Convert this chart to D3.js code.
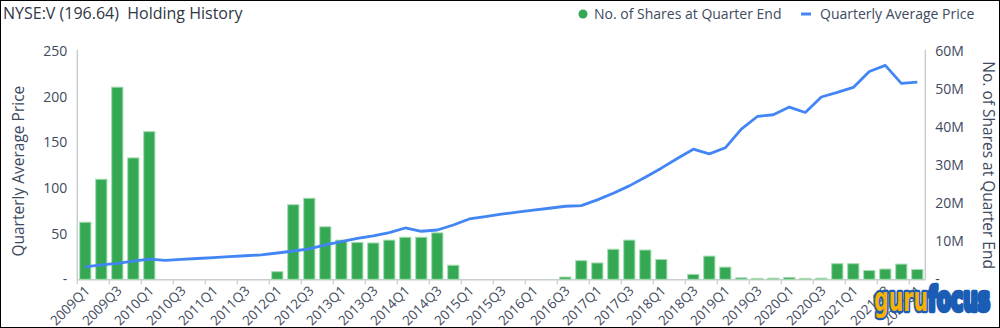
<!DOCTYPE html>
<html>
<head>
<meta charset="utf-8">
<script src="https://cdn.jsdelivr.net/npm/d3@7"></script>
<style>
html,body{margin:0;padding:0;background:#fff;}
svg{display:block;font-family:"Open Sans","Noto Sans",sans-serif;}
</style>
</head>
<body>
<svg id="chart" width="1000" height="328"></svg>
<script>
const quarters = [];
for (let y = 2009; y <= 2022; y++) for (let q = 1; q <= 4; q++) { if (y === 2022 && q > 1) break; quarters.push(y + "Q" + q); }

const shares = [15.0, 26.3, 50.5, 31.9, 38.8, 0, 0, 0, 0, 0, 0, 0,
  2.0, 19.6, 21.3, 13.8, 10.3, 9.7, 9.55, 10.3, 11.05, 11.05, 12.2, 3.7,
  0, 0, 0, 0, 0, 0, 0.6, 4.9, 4.3, 7.9, 10.3, 7.7, 5.2, 0, 1.3, 6.1, 3.2,
  0.4, 0.25, 0.3, 0.5, 0.25, 0.3, 4.1, 4.1, 2.3, 2.7, 4.0, 2.6];

const prices = [13.5, 15.7, 17.5, 20.0, 22.2, 20.8, 21.8, 22.8, 23.8, 24.8, 25.8, 26.8,
  28.8, 31.0, 33.2, 37.6, 41.2, 44.7, 47.5, 51.1, 56.2, 52.6, 54.0, 59.5,
  66.1, 68.6, 71.3, 73.5, 75.7, 77.8, 80.0, 80.7, 87.0, 94.3, 102.3, 111.8,
  121.7, 132.2, 142.5, 137.4, 144.0, 164.5, 178.3, 180.2, 188.6, 182.7, 199.6,
  204.6, 210.1, 227.6, 234.2, 214.5, 216.0];

const priceTicks = [50, 100, 150, 200, 250];
const shareTicks = [10, 20, 30, 40, 50, 60];
const title = "NYSE:V (196.64)  Holding History";
const legendItems = ["No. of Shares at Quarter End", "Quarterly Average Price"];
const leftTitle = "Quarterly Average Price";
const rightTitle = "No. of Shares at Quarter End";

const svg = d3.select("#chart");
const L = 77.3, R = 925.3, T = 51, B = 279.3;
const textCol = "#3e4a5e";
const axisCol = "#c9ccd3";

const x = d3.scaleBand().domain(quarters).range([L, R]).paddingInner(0.3).paddingOuter(0.15);
const xb = d3.scaleBand().domain(quarters).range([L, R]);
const yL = d3.scaleLinear().domain([0, 250]).range([B, T]);
const yR = d3.scaleLinear().domain([0, 60]).range([B, T]);

// border
svg.append("rect").attr("x", 0.5).attr("y", 0.5).attr("width", 999).attr("height", 327)
  .attr("fill", "none").attr("stroke", "#000");

// title
svg.append("text").attr("x", 3).attr("y", 19).attr("fill", "#2f3746")
  .attr("font-size", 16).style("white-space", "pre").attr("xml:space", "preserve").text(title);

// legend
svg.append("circle").attr("cx", 583).attr("cy", 14).attr("r", 4.5).attr("fill", "#34a853");
svg.append("text").attr("x", 594).attr("y", 19).attr("font-size", 14).attr("fill", textCol).text(legendItems[0]);
svg.append("line").attr("x1", 801).attr("x2", 811).attr("y1", 14).attr("y2", 14)
  .attr("stroke", "#4285f4").attr("stroke-width", 3);
svg.append("text").attr("x", 820).attr("y", 19).attr("font-size", 14).attr("fill", textCol).text(legendItems[1]);

// axis lines
svg.append("line").attr("x1", L).attr("x2", L).attr("y1", T - 1).attr("y2", B).attr("stroke", axisCol).attr("stroke-width", 1.5);
svg.append("line").attr("x1", R).attr("x2", R).attr("y1", T - 1).attr("y2", B).attr("stroke", axisCol).attr("stroke-width", 1.5);

// bottom axis
const xAxis = d3.axisBottom(xb).tickSize(0).tickFormat("");
const gx = svg.append("g").attr("transform", `translate(0,${B})`).call(xAxis);
gx.select(".domain").attr("stroke", axisCol).attr("stroke-width", 1.5);
gx.selectAll(".tick").remove();
quarters.forEach((q, i) => {
  if (i % 2 !== 0) return;
  const bx = xb(q);
  svg.append("line").attr("x1", bx).attr("x2", bx).attr("y1", B).attr("y2", B + 5)
    .attr("stroke", axisCol).attr("stroke-width", 1.2);
  const cx = bx + xb.bandwidth() / 2;
  svg.append("text").attr("transform", `translate(${cx + 2},${B + 9}) rotate(-45)`)
    .attr("text-anchor", "end").attr("dy", "0.35em").attr("font-size", 13.5)
    .attr("fill", textCol).text(q);
});

// left axis labels
const gl = svg.append("g").attr("transform", `translate(${L},0)`)
  .call(d3.axisLeft(yL).tickValues([0].concat(priceTicks)).tickSize(0).tickPadding(10)
    .tickFormat(d => d === 0 ? "-" : d));
gl.select(".domain").remove();
gl.selectAll("text").attr("font-size", 14).attr("fill", textCol)
  .attr("font-family", "Open Sans, Noto Sans, sans-serif");

// right axis labels
const gr = svg.append("g").attr("transform", `translate(${R},0)`)
  .call(d3.axisRight(yR).tickValues([0].concat(shareTicks)).tickSize(0).tickPadding(10)
    .tickFormat(d => d === 0 ? "-" : d + "M"));
gr.select(".domain").remove();
gr.selectAll("text").attr("font-size", 14).attr("fill", textCol)
  .attr("font-family", "Open Sans, Noto Sans, sans-serif");

// axis titles
svg.append("text").attr("transform", `translate(24,${(T + B) / 2 + 6}) rotate(-90)`)
  .attr("text-anchor", "middle").attr("font-size", 15.5).attr("fill", textCol).text(leftTitle);
svg.append("text").attr("transform", `translate(983,${(T + B) / 2}) rotate(90)`)
  .attr("text-anchor", "middle").attr("font-size", 15.5).attr("fill", textCol).text(rightTitle);

// bars
svg.append("g").selectAll("rect").data(quarters.map((q, i) => ({ q, v: shares[i] })).filter(d => d.v > 0))
  .join("rect")
  .attr("x", d => x(d.q)).attr("width", x.bandwidth())
  .attr("y", d => yR(d.v)).attr("height", d => B - yR(d.v))
  .attr("fill", "#34a853").attr("stroke", "#a6dbb2").attr("stroke-width", 1);

// line
const line = d3.line().x((d, i) => xb(quarters[i]) + xb.bandwidth() / 2).y(d => yL(d));
svg.append("path").datum(prices).attr("d", line).attr("fill", "none")
  .attr("stroke", "#4285f4").attr("stroke-width", 2.8).attr("stroke-linejoin", "round");

// logo
const logo = svg.append("text").attr("x", 874).attr("y", 311)
  .attr("font-family", "DejaVu Sans Condensed, DejaVu Sans, sans-serif")
  .attr("font-weight", "bold").attr("font-size", 33)
  .attr("textLength", 116).attr("lengthAdjust", "spacingAndGlyphs")
  .attr("stroke", "#1b5db5").attr("stroke-width", 4.5).attr("paint-order", "stroke")
  .attr("stroke-linejoin", "round");
logo.append("tspan").attr("fill", "#f8b100").text("guru");
logo.append("tspan").attr("fill", "#1b5db5").text("focus");
</script>
</body>
</html>
